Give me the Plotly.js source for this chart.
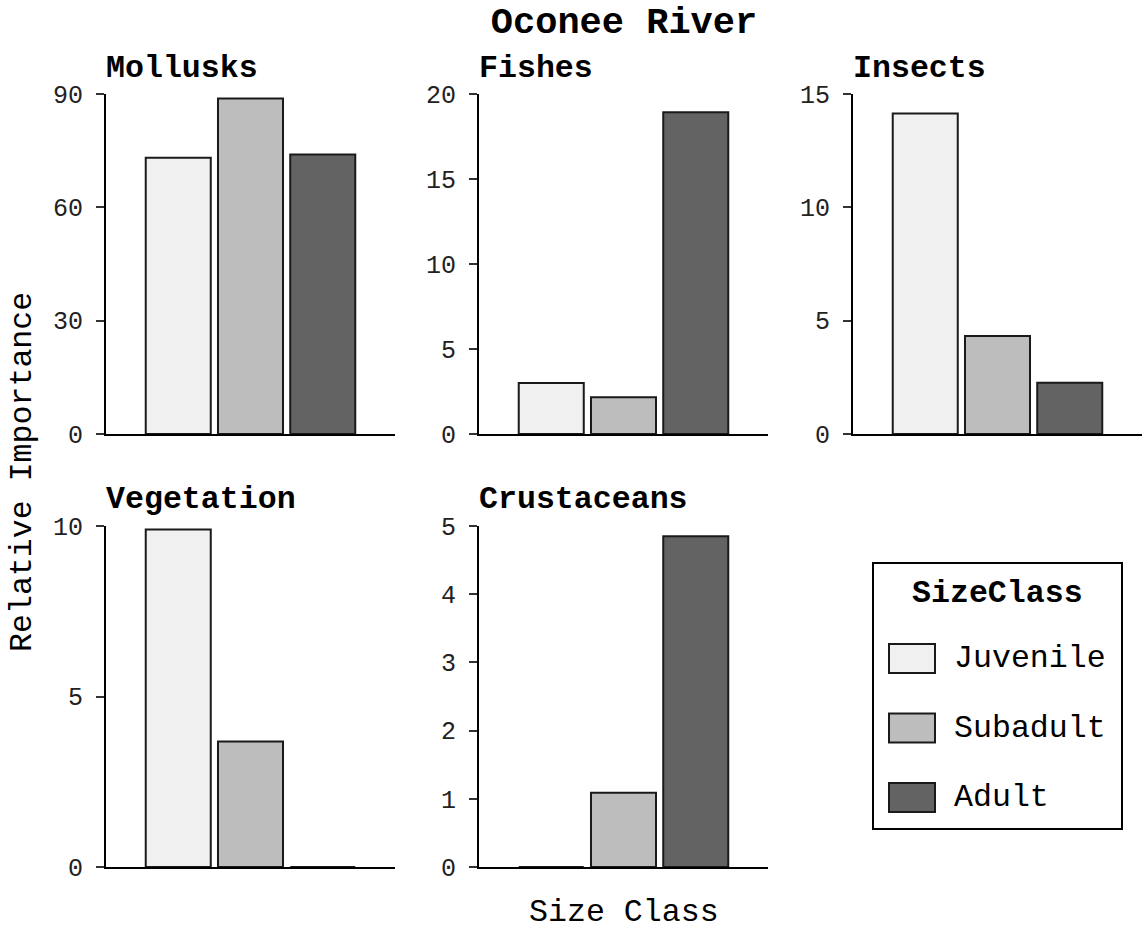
<!DOCTYPE html>
<html>
<head>
<meta charset="utf-8">
<script src="https://cdn.plot.ly/plotly-3.0.1.min.js"></script>
<style>html,body{margin:0;padding:0;background:#fff;}#chart{width:1144px;height:930px;}</style>
</head>
<body>
<div id="chart"></div>
<script>
// ---- data ----
const sizeClasses = ['Juvenile', 'Subadult', 'Adult'];
const preyTypes = ['Mollusks', 'Fishes', 'Insects', 'Vegetation', 'Crustaceans'];
const mollusks    = [73.1, 88.8, 74.0];
const fishes      = [3.0, 2.16, 18.92];
const insects     = [14.14, 4.32, 2.26];
const vegetation  = [9.9, 3.68, 0];
const crustaceans = [0, 1.09, 4.85];
const yMax  = [90, 20, 15, 10, 5];
const yStep = [30, 5, 5, 5, 1];
const fillColors = ['#F0F0F0', '#BDBDBD', '#636363'];
const chartTitle = 'Oconee River';
const xTitle = 'Size Class';
const yTitle = 'Relative Importance';
const legendTitle = 'SizeClass';

const seriesByPrey = [mollusks, fishes, insects, vegetation, crustaceans];

// ---- layout helpers ----
const W = 1144, H = 930;
const px2x = p => p / W;
const px2y = p => 1 - p / H;
const FONT = 'Liberation Mono, Courier New, monospace';
const colPx = [[106, 395], [479, 768], [853, 1142]];
const rowPx = [[94, 434], [526, 867]];

const traces = [];
const layout = {
  width: W, height: H,
  margin: {l: 0, r: 0, t: 0, b: 0},
  paper_bgcolor: '#fff', plot_bgcolor: '#fff',
  showlegend: false,
  barmode: 'overlay',
  font: {family: FONT, color: '#000'},
  title: {
    text: chartTitle,
    font: {family: FONT, size: 37, weight: 'bold', color: '#000'},
    x: 624 / W, xanchor: 'center', xref: 'paper',
    y: 1 - 20 / H, yanchor: 'middle', yref: 'container'
  },
  annotations: [],
  shapes: []
};

preyTypes.forEach((prey, i) => {
  const row = Math.floor(i / 3), col = i % 3;
  const sfx = i === 0 ? '' : String(i + 1);
  const vals = seriesByPrey[i];
  sizeClasses.forEach((sc, k) => {
    traces.push({
      type: 'bar',
      x: [sc], y: [vals[k]],
      name: sc,
      width: 0.9,
      xaxis: 'x' + sfx, yaxis: 'y' + sfx,
      marker: {color: fillColors[k], line: {color: '#1a1a1a', width: 2}},
      hoverinfo: 'x+y'
    });
  });
  const ticks = [];
  for (let v = 0; v <= yMax[i] + 1e-9; v += yStep[i]) ticks.push(v);
  layout['xaxis' + sfx] = {
    domain: [px2x(colPx[col][0]), px2x(colPx[col][1])],
    anchor: 'y' + sfx,
    type: 'category', categoryarray: sizeClasses, categoryorder: 'array',
    range: [-1, 3],
    showticklabels: false, ticks: '',
    showline: true, linecolor: '#000', linewidth: 2,
    showgrid: false, zeroline: false, fixedrange: true
  };
  layout['yaxis' + sfx] = {
    domain: [px2y(rowPx[row][1]), px2y(rowPx[row][0])],
    anchor: 'x' + sfx,
    range: [0, yMax[i]],
    tickvals: ticks, ticktext: ticks.map(String),
    ticks: 'outside', ticklen: 8, tickwidth: 2, tickcolor: '#333',
    ticklabelstandoff: 8,
    tickfont: {family: FONT, size: 25, color: '#222'},
    showline: true, linecolor: '#000', linewidth: 2,
    showgrid: false, zeroline: false, fixedrange: true
  };
  layout.annotations.push({
    text: prey, xref: 'paper', yref: 'paper',
    x: px2x(colPx[col][0] - 2), xanchor: 'left',
    y: px2y(rowPx[row][0] - 26), yanchor: 'middle',
    showarrow: false,
    font: {family: FONT, size: 31.6, weight: 'bold', color: '#000'}
  });
});

// axis titles
layout.annotations.push({
  text: xTitle, xref: 'paper', yref: 'paper',
  x: 624 / W, xanchor: 'center', y: px2y(912), yanchor: 'middle',
  showarrow: false, font: {family: FONT, size: 31.6, color: '#000'}
});
layout.annotations.push({
  text: yTitle, xref: 'paper', yref: 'paper', textangle: -90,
  x: px2x(22), xanchor: 'center', y: px2y(472), yanchor: 'middle',
  showarrow: false, font: {family: FONT, size: 31.6, color: '#000'}
});

// custom legend (box, title, keys, labels)
const lg = {x0: 873, x1: 1122, y0: 563, y1: 829};
layout.shapes.push({
  type: 'rect', xref: 'paper', yref: 'paper',
  x0: px2x(lg.x0), x1: px2x(lg.x1), y0: px2y(lg.y0), y1: px2y(lg.y1),
  line: {color: '#000', width: 2}, fillcolor: '#fff', layer: 'below'
});
layout.annotations.push({
  text: legendTitle, xref: 'paper', yref: 'paper',
  x: px2x((lg.x0 + lg.x1) / 2), xanchor: 'center', y: px2y(593), yanchor: 'middle',
  showarrow: false, font: {family: FONT, size: 31.6, weight: 'bold', color: '#000'}
});
sizeClasses.forEach((sc, k) => {
  const cy = 658.5 + k * 69.5;
  layout.shapes.push({
    type: 'rect', xref: 'paper', yref: 'paper',
    x0: px2x(889), x1: px2x(935), y0: px2y(cy - 14.5), y1: px2y(cy + 14.5),
    line: {color: '#1a1a1a', width: 2}, fillcolor: fillColors[k]
  });
  layout.annotations.push({
    text: sc, xref: 'paper', yref: 'paper',
    x: px2x(952), xanchor: 'left', y: px2y(cy), yanchor: 'middle',
    showarrow: false, font: {family: FONT, size: 31.6, color: '#000'}
  });
});

Plotly.newPlot('chart', traces, layout, {displayModeBar: false, staticPlot: true});
</script>
</body>
</html>
